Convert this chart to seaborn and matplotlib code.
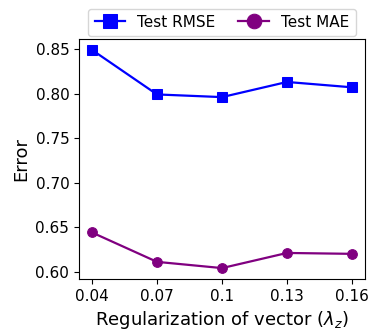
import matplotlib
matplotlib.use("Agg")
import matplotlib.pyplot as plt
import seaborn as sns
import pandas as pd

lambdas = [0.04, 0.07, 0.1, 0.13, 0.16]
tick_labels = ["0.04", "0.07", "0.1", "0.13", "0.16"]
rmse = [0.849, 0.799, 0.796, 0.813, 0.807]
mae = [0.644, 0.611, 0.604, 0.621, 0.620]

plt.rcParams['font.family'] = ['DejaVu Sans']

df = pd.DataFrame({"lam": lambdas, "rmse": rmse, "mae": mae})

fig = plt.figure(figsize=(3.76, 3.34), dpi=100)
ax = fig.add_axes([79/376, 1 - 279/334, (365-79)/376, (279-39)/334])

sns.lineplot(data=df, x="lam", y="rmse", ax=ax, color="blue", marker="s",
             markersize=7, markeredgecolor="blue", linewidth=1.6, label="Test RMSE")
sns.lineplot(data=df, x="lam", y="mae", ax=ax, color="purple", marker="o",
             markersize=7, markeredgecolor="purple", linewidth=1.6, label="Test MAE")

ax.set_xticks(lambdas)
ax.set_xticklabels(tick_labels)
ax.set_yticks([0.60, 0.65, 0.70, 0.75, 0.80, 0.85])
ax.tick_params(labelsize=11)
ax.set_xlabel(r"Regularization of vector ($\lambda_z$)", fontsize=13)
ax.set_ylabel("Error", fontsize=13)

ax.legend(loc="lower center", bbox_to_anchor=(0.5, 1.0), ncol=2, fontsize=11,
          frameon=True, markerscale=1.5, handlelength=2.0, columnspacing=1.5,
          borderaxespad=0.2)

fig.savefig("out.png", dpi=100)
